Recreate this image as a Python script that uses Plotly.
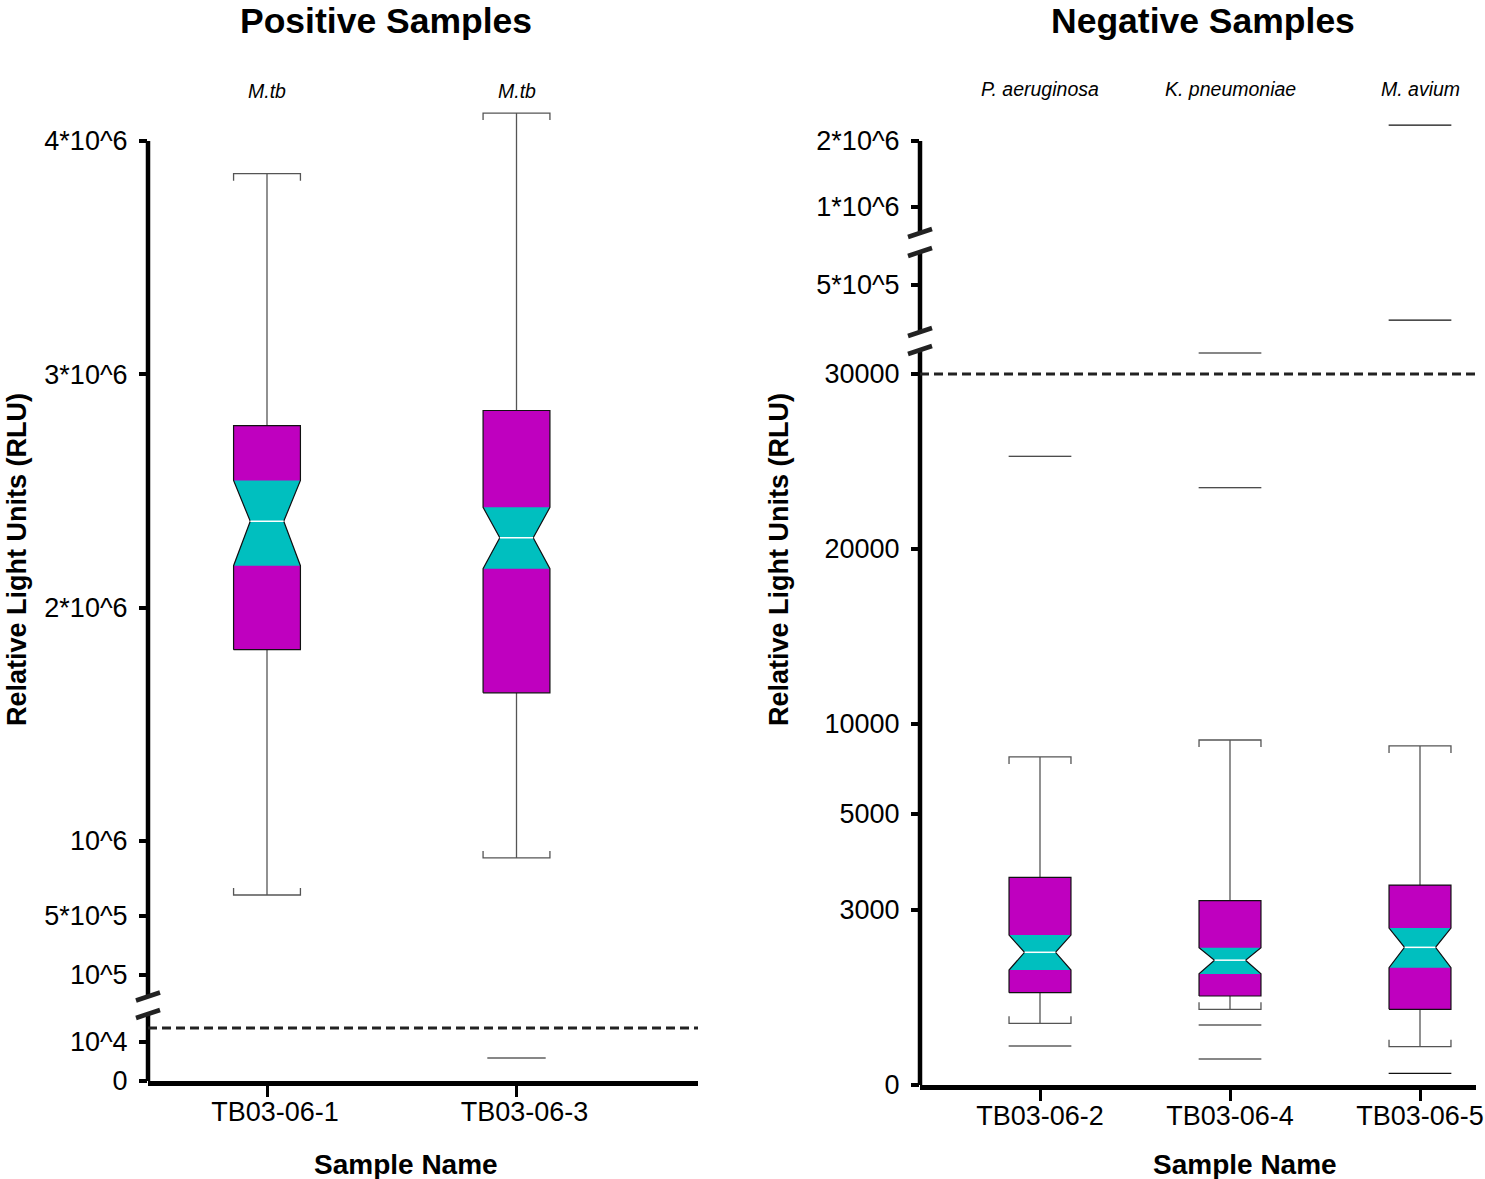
import numpy as np
import plotly.graph_objects as go

W, H = 1485, 1179
FONT = "Liberation Sans, Arial, sans-serif"
MAGENTA = "#BF00BF"
CYAN = "#00BFBF"

# ---------------- data: positive samples ----------------
pos_samples = ["TB03-06-1", "TB03-06-3"]
pos_species = ["M.tb", "M.tb"]
pos_upper_whisker = [3.86e6, 4.12e6]
pos_q3 = [2.78e6, 2.845e6]
pos_notch_hi = [2.545e6, 2.43e6]
pos_median = [2.37e6, 2.30e6]
pos_notch_lo = [2.18e6, 2.167e6]
pos_q1 = [1.82e6, 1.635e6]
pos_lower_whisker = [6.4e5, 8.87e5]
pos_outliers = [[], [5900]]
pos_threshold = 13600

pos_tickvals = [0, 1e4, 1e5, 5e5, 1e6, 2e6, 3e6, 4e6]
pos_ticktext = ["0", "10^4", "10^5", "5*10^5", "10^6", "2*10^6", "3*10^6", "4*10^6"]

# ---------------- data: negative samples ----------------
neg_samples = ["TB03-06-2", "TB03-06-4", "TB03-06-5"]
neg_species = ["P. aeruginosa", "K. pneumoniae", "M. avium"]
neg_upper_whisker = [8170, 9110, 8780]
neg_q3 = [3680, 3195, 3520]
neg_notch_hi = [2570, 2355, 2690]
neg_median = [2275, 2140, 2360]
neg_notch_lo = [1970, 1905, 2010]
neg_q1 = [1582, 1526, 1298]
neg_lower_whisker = [1058, 1298, 657]
neg_outliers = [[25300, 669], [31200, 23500, 1029, 446], [2.24e6, 3.9e5, 200]]
neg_threshold = 30000

neg_tickvals = [0, 3000, 5000, 10000, 20000, 30000, 5e5, 1e6, 2e6]
neg_ticktext = ["0", "3000", "5000", "10000", "20000", "30000", "5*10^5", "1*10^6", "2*10^6"]

# ---------------- broken / piecewise axis scales (value -> display units) ----------------
pos_scale_vals = [0, 1e4, 2e4, 1e5, 5e5, 1e6, 4e6, 5e6]
pos_scale_disp = [0, 39, 78, 106, 165, 240, 940, 1173]
neg_scale_vals = [0, 3000, 5000, 1e4, 3e4, 3.2e4, 3.5e5, 5e5, 1e6, 2e6, 3e6]
neg_scale_disp = [0, 175, 271, 361, 711, 746, 752, 800, 878, 944, 1010]

# layout geometry (pixels)
POS_X0, POS_X1, POS_BOTTOM = 148, 698, 1081
NEG_X0, NEG_X1, NEG_BOTTOM = 920, 1476, 1085
PLOT_TOP = 50
POS_AXIS_SEGS = [(0, 67), (84.5, 940)]
NEG_AXIS_SEGS = [(0, 735), (753, 833), (852, 944)]
POS_BREAKS = [67, 84.5]
NEG_BREAKS = [735, 753, 833, 852]


def tf(v, sv, sd):
    return float(np.interp(v, sv, sd))


def box_traces(xa, ya, n, uw, q3, nhi, med, nlo, q1, lw, outl, sv, sd, h, ho):
    wx, wy, cx, cy = [], [], [], []
    mx, my, kx, ky, ox, oy = [], [], [], [], [], []
    dx, dy, lx, ly = [], [], [], []
    cap = 7
    for i in range(n):
        U, Q3, NH, M, NL, Q1, L = [tf(v, sv, sd) for v in (uw[i], q3[i], nhi[i], med[i], nlo[i], q1[i], lw[i])]
        wx += [i, i, None, i, i, None]
        wy += [Q3, U, None, Q1, L, None]
        cx += [i - h, i - h, i + h, i + h, None, i - h, i - h, i + h, i + h, None]
        cy += [U - cap, U, U, U - cap, None, L + cap, L, L, L + cap, None]
        poly_x = [i - h, i + h, i + h, i + h / 2, i + h, i + h, i - h, i - h, i - h / 2, i - h, i - h]
        poly_y = [Q1, Q1, NL, M, NH, Q3, Q3, NH, M, NL, Q1]
        mx += poly_x + [None]
        my += poly_y + [None]
        ox += poly_x + [None]
        oy += poly_y + [None]
        kx += [i - h, i + h, i + h / 2, i + h, i - h, i - h / 2, i - h, None]
        ky += [NL, NL, M, NH, NH, M, NL, None]
        dx += [i - h / 2, i + h / 2, None]
        dy += [M, M, None]
        for v in outl[i]:
            d = tf(v, sv, sd)
            lx += [i - ho, i + ho, None]
            ly += [d, d, None]
    common = dict(xaxis=xa, yaxis=ya, hoverinfo="skip", showlegend=False)
    return [
        go.Scatter(x=wx, y=wy, mode="lines", line=dict(color="#555555", width=1.3), **common),
        go.Scatter(x=cx, y=cy, mode="lines", line=dict(color="#555555", width=1.3), **common),
        go.Scatter(x=mx, y=my, mode="lines", fill="toself", fillcolor=MAGENTA,
                   line=dict(width=0, color=MAGENTA), **common),
        go.Scatter(x=kx, y=ky, mode="lines", fill="toself", fillcolor=CYAN,
                   line=dict(width=0, color=CYAN), **common),
        go.Scatter(x=ox, y=oy, mode="lines", line=dict(color="#111111", width=1.2), **common),
        go.Scatter(x=dx, y=dy, mode="lines", line=dict(color="white", width=1.5), **common),
        go.Scatter(x=lx, y=ly, mode="lines", line=dict(color="#111111", width=1.2), **common),
    ]


fig = go.Figure()
for t in box_traces("x", "y", len(pos_samples), pos_upper_whisker, pos_q3, pos_notch_hi, pos_median,
                    pos_notch_lo, pos_q1, pos_lower_whisker, pos_outliers,
                    pos_scale_vals, pos_scale_disp, 0.134, 0.117):
    fig.add_trace(t)
for t in box_traces("x2", "y2", len(neg_samples), neg_upper_whisker, neg_q3, neg_notch_hi, neg_median,
                    neg_notch_lo, neg_q1, neg_lower_whisker, neg_outliers,
                    neg_scale_vals, neg_scale_disp, 0.163, 0.165):
    fig.add_trace(t)

# x ranges: place category centres
pos_c0, pos_step = 267, 249.5
neg_c0, neg_step = 1040, 190
pos_xrange = [-(pos_c0 - POS_X0) / pos_step, (POS_X1 - pos_c0) / pos_step]
neg_xrange = [-(neg_c0 - NEG_X0) / neg_step, (NEG_X1 - neg_c0) / neg_step]


def py(d, bottom):
    return (H - bottom + d) / H


shapes = []
# y axis lines (with gaps at breaks)
for (a, b) in POS_AXIS_SEGS:
    shapes.append(dict(type="line", xref="paper", yref="paper", x0=POS_X0 / W, x1=POS_X0 / W,
                       y0=py(a, POS_BOTTOM), y1=py(b, POS_BOTTOM), line=dict(color="black", width=4.5)))
for (a, b) in NEG_AXIS_SEGS:
    shapes.append(dict(type="line", xref="paper", yref="paper", x0=NEG_X0 / W, x1=NEG_X0 / W,
                       y0=py(a, NEG_BOTTOM), y1=py(b, NEG_BOTTOM), line=dict(color="black", width=4.5)))
# break slashes
for d in POS_BREAKS:
    shapes.append(dict(type="line", xref="paper", yref="paper", x0=(POS_X0 - 12) / W, x1=(POS_X0 + 12) / W,
                       y0=py(d - 4, POS_BOTTOM), y1=py(d + 4, POS_BOTTOM), line=dict(color="#222222", width=4.5)))
for d in NEG_BREAKS:
    shapes.append(dict(type="line", xref="paper", yref="paper", x0=(NEG_X0 - 12) / W, x1=(NEG_X0 + 12) / W,
                       y0=py(d - 4, NEG_BOTTOM), y1=py(d + 4, NEG_BOTTOM), line=dict(color="#222222", width=4.5)))
# threshold dashed lines
shapes.append(dict(type="line", xref="x domain", yref="y", x0=0, x1=1,
                   y0=tf(pos_threshold, pos_scale_vals, pos_scale_disp),
                   y1=tf(pos_threshold, pos_scale_vals, pos_scale_disp),
                   line=dict(color="#222222", width=3, dash="9px,5px")))
shapes.append(dict(type="line", xref="x2 domain", yref="y2", x0=0, x1=1,
                   y0=tf(neg_threshold, neg_scale_vals, neg_scale_disp),
                   y1=tf(neg_threshold, neg_scale_vals, neg_scale_disp),
                   line=dict(color="#222222", width=3, dash="9px,5px")))

annotations = []


def ann(text, x, y, size, xref="paper", angle=0):
    annotations.append(dict(text=text, x=x, y=y, xref=xref, yref="paper", showarrow=False,
                            xanchor="center", yanchor="middle", textangle=angle,
                            font=dict(family=FONT, size=size, color="black")))


ann("<b>Positive Samples</b>", 386 / W, 1 - 21 / H, 35.5)
ann("<b>Negative Samples</b>", 1203 / W, 1 - 21 / H, 35.5)
ann("<b>Relative Light Units (RLU)</b>", 17 / W, 1 - 560 / H, 27, angle=-90)
ann("<b>Relative Light Units (RLU)</b>", 779 / W, 1 - 560 / H, 27, angle=-90)
ann("<b>Sample Name</b>", 406 / W, 1 - 1164 / H, 28)
ann("<b>Sample Name</b>", 1245 / W, 1 - 1164 / H, 28)
for i, s in enumerate(pos_species):
    ann("<i>%s</i>" % s, i, 1 - 91 / H, 19.5, xref="x")
for i, s in enumerate(neg_species):
    ann("<i>%s</i>" % s, i, 1 - 89 / H, 19.5, xref="x2")

xcommon = dict(showline=True, linewidth=4.5, linecolor="black", ticks="outside", ticklen=11,
               tickwidth=2.5, tickcolor="black", showgrid=False, zeroline=False,
               tickfont=dict(family=FONT, size=27, color="black"), automargin=False,
               ticklabelstandoff=-8, fixedrange=True)
ycommon = dict(showline=False, ticks="outside", ticklen=8, tickwidth=4, tickcolor="black",
               showgrid=False, zeroline=False, automargin=False, ticklabelstandoff=6,
               tickfont=dict(family=FONT, size=27, color="black"), fixedrange=True)

fig.update_layout(
    template="none",
    width=W, height=H,
    margin=dict(l=0, r=0, t=0, b=0),
    paper_bgcolor="white", plot_bgcolor="white",
    showlegend=False,
    xaxis=dict(domain=[POS_X0 / W, POS_X1 / W], range=pos_xrange, tickvals=list(range(len(pos_samples))),
               ticktext=pos_samples, anchor="y", ticklabelshift=8, **xcommon),
    yaxis=dict(domain=[(H - POS_BOTTOM) / H, (H - PLOT_TOP) / H], range=[0, POS_BOTTOM - PLOT_TOP],
               tickvals=[tf(v, pos_scale_vals, pos_scale_disp) for v in pos_tickvals],
               ticktext=pos_ticktext, anchor="x", **ycommon),
    xaxis2=dict(domain=[NEG_X0 / W, NEG_X1 / W], range=neg_xrange, tickvals=list(range(len(neg_samples))),
                ticktext=neg_samples, anchor="y2", **xcommon),
    yaxis2=dict(domain=[(H - NEG_BOTTOM) / H, (H - PLOT_TOP) / H], range=[0, NEG_BOTTOM - PLOT_TOP],
                tickvals=[tf(v, neg_scale_vals, neg_scale_disp) for v in neg_tickvals],
                ticktext=neg_ticktext, anchor="x2", **ycommon),
    shapes=shapes,
    annotations=annotations,
)

fig.write_html("out.html", config={"displayModeBar": False},
               post_script="document.body.style.margin='0';document.body.style.overflow='hidden';")
